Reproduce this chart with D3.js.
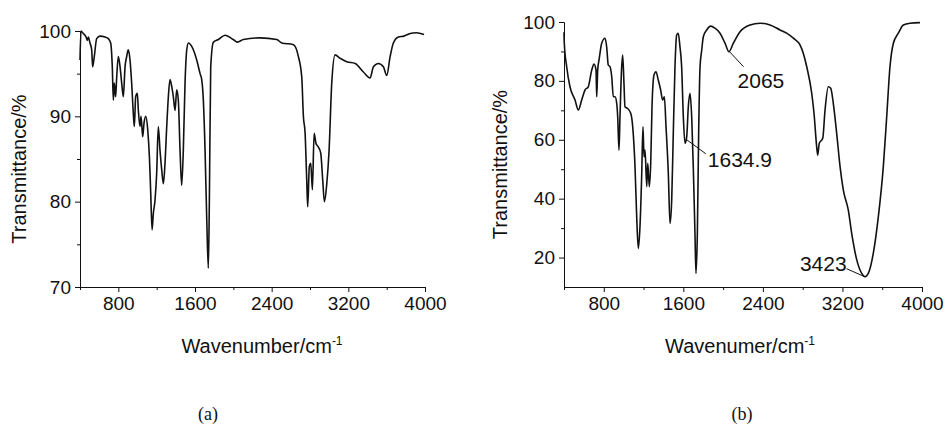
<!DOCTYPE html>
<html>
<head>
<meta charset="utf-8">
<script src="https://cdn.jsdelivr.net/npm/d3@7"></script>
<style>
    body { margin: 0; background: #fff; }
    svg { display: block; }
    .axis text { font-family: "Liberation Sans", Arial, sans-serif; font-size: 19px; fill: #111; }
    .axis path, .axis line { stroke: #111; stroke-width: 1; }
    .title { font-family: "Liberation Sans", Arial, sans-serif; font-size: 20px; fill: #111; }
    .note { font-family: "Liberation Sans", Arial, sans-serif; font-size: 21px; fill: #111; }
    .panel-label { font-family: "Liberation Serif", "Times New Roman", serif; font-size: 18px; fill: #111; }
</style>
</head>
<body>
<div id="chart"></div>
<script>
// spectrum (a)
const wnA = [400, 410, 435, 463, 476, 487, 504, 522, 532, 549, 574, 609, 661, 696, 720, 737, 748, 758, 772, 783,
    800, 818, 835, 852, 870, 887, 904, 922, 939, 956, 967, 981, 998, 1009, 1026, 1037, 1054, 1068, 1086, 1107,
    1124, 1138, 1152, 1165, 1183, 1200, 1217, 1235, 1253, 1270, 1287, 1305, 1322, 1339, 1357, 1374, 1392, 1409, 1426, 1444,
    1461, 1478, 1496, 1514, 1531, 1566, 1618, 1653, 1670, 1687, 1705, 1722, 1739, 1750, 1764, 1792, 1844, 1914, 2000, 2042,
    2105, 2279, 2453, 2505, 2627, 2679, 2714, 2731, 2749, 2766, 2776, 2793, 2808, 2825, 2843, 2863, 2888, 2912, 2933, 2950,
    2975, 2999, 3027, 3062, 3114, 3184, 3271, 3357, 3427, 3462, 3514, 3566, 3601, 3636, 3670, 3723, 3780, 3845, 3910, 3990];
const tA = [96.6, 100, 99.7, 99.3, 98.9, 99.3, 98.6, 97.8, 95.8, 97.0, 99.1, 99.4, 99.3, 99.1, 98.6, 95.8, 91.9, 93.9, 92.3, 94.6,
    97.0, 95.8, 93.9, 92.3, 95.8, 97.0, 97.8, 96.6, 93.9, 90.4, 88.8, 92.3, 92.7, 90.7, 88.8, 90.0, 87.6, 89.2, 90.0, 88.4,
    85.3, 81.0, 76.7, 78.6, 80.2, 83.3, 88.8, 86.0, 83.7, 82.1, 84.5, 88.8, 92.3, 94.3, 93.5, 92.3, 90.7, 93.1, 91.9, 86.0,
    81.9, 86.0, 93.9, 97.8, 98.6, 98.2, 96.6, 95.0, 94.3, 91.9, 86.0, 78.2, 72.2, 80.2, 95.8, 98.7, 99.0, 99.5, 99.0, 98.7,
    99.0, 99.2, 99.0, 98.6, 98.4, 97.0, 94.6, 90.0, 88.0, 82.5, 79.4, 84.1, 84.5, 81.4, 88.0, 86.8, 86.4, 85.7, 82.5, 80.0,
    82.1, 86.0, 93.9, 97.2, 96.8, 96.4, 96.2, 95.2, 94.5, 95.8, 96.2, 95.8, 94.8, 97.0, 98.6, 99.3, 99.4, 99.7, 99.8, 99.6];

// spectrum (b)
const wnB = [400, 403, 427, 460, 511, 544, 578, 611, 644, 679, 702, 722, 729, 739, 755, 779, 812, 829, 845, 863,
    880, 896, 913, 930, 940, 953, 963, 980, 990, 1003, 1013, 1037, 1071, 1091, 1114, 1131, 1147, 1164, 1181, 1194,
    1205, 1215, 1232, 1242, 1258, 1272, 1285, 1305, 1325, 1348, 1372, 1392, 1409, 1426, 1449, 1466, 1483, 1499, 1516, 1533,
    1549, 1566, 1583, 1600, 1617, 1634, 1650, 1667, 1684, 1700, 1717, 1727, 1741, 1754, 1768, 1785, 1801, 1835, 1875, 1918,
    1969, 2019, 2059, 2103, 2170, 2270, 2371, 2472, 2572, 2639, 2706, 2773, 2806, 2841, 2891, 2914, 2941, 2951, 2967, 3002,
    3025, 3058, 3082, 3108, 3142, 3176, 3209, 3259, 3293, 3344, 3394, 3427, 3460, 3510, 3561, 3611, 3645, 3678, 3712, 3762,
    3812, 3879, 3980];
const tB = [96.5, 92.8, 84.8, 78.0, 73.5, 70.1, 73.5, 76.9, 78.0, 83.7, 85.7, 83.7, 74.6, 83.7, 87.7, 92.8, 94.5, 91.6, 85.4, 84.8,
    81.4, 74.6, 74.6, 72.4, 67.8, 56.5, 67.8, 84.8, 88.8, 79.2, 71.2, 70.7, 69.0, 64.4, 50.9, 33.9, 23.1, 30.5, 47.5, 64.4,
    54.2, 56.5, 44.1, 52.0, 44.1, 52.0, 71.2, 82.0, 83.1, 80.3, 76.9, 73.5, 74.6, 64.4, 48.6, 31.6, 39.5, 62.2, 84.8, 95.6,
    96.2, 91.6, 84.8, 67.8, 58.8, 61.0, 71.2, 75.8, 67.8, 50.9, 28.2, 14.6, 28.2, 62.2, 84.8, 90.5, 95.0, 97.3, 98.6, 97.9,
    96.2, 92.8, 89.9, 92.8, 96.7, 99.0, 99.6, 99.0, 97.3, 96.2, 94.5, 92.2, 89.4, 84.8, 75.8, 69.0, 57.6, 54.8, 58.8, 60.5,
    70.1, 78.0, 77.5, 72.4, 62.2, 50.9, 42.9, 36.1, 28.2, 19.2, 14.6, 13.5, 14.6, 21.4, 33.9, 50.9, 67.8, 84.8, 92.8, 96.2,
    99.0, 99.6, 99.8];

// ticks
const xMajor = [800, 1600, 2400, 3200, 4000];
const xMinor = [400, 1200, 2000, 2800, 3600];
const yMajorA = [70, 80, 90, 100];
const yMinorA = [75, 85, 95];
const yMajorB = [20, 40, 60, 80, 100];
const yMinorB = [30, 50, 70, 90];

// peak labels on (b)
const noteText = ["2065", "1634.9", "3423"];
const noteWn = [2065, 1634.9, 3423];
const noteT = [89.9, 60.0, 13.5];

const svg = d3.select("#chart").append("svg")
    .attr("width", 946)
    .attr("height", 429);

svg.append("rect").attr("width", 946).attr("height", 429).attr("fill", "#fff");

function drawPanel(p) {
    const x = d3.scaleLinear().domain([400, 4000]).range([p.left, p.right]);
    const y = d3.scaleLinear().domain(p.yDomain).range([p.bottom, p.top]);
    const g = svg.append("g");

    // minor ticks first, no labels
    g.append("g")
        .attr("class", "axis")
        .attr("transform", `translate(0,${p.bottom})`)
        .call(d3.axisBottom(x).tickValues(xMinor).tickSize(3).tickSizeOuter(0).tickFormat(""));
    g.append("g")
        .attr("class", "axis")
        .attr("transform", `translate(${p.left},0)`)
        .call(d3.axisLeft(y).tickValues(p.yMinor).tickSize(3).tickSizeOuter(0).tickFormat(""));

    g.append("g")
        .attr("class", "axis")
        .attr("transform", `translate(0,${p.bottom})`)
        .call(d3.axisBottom(x).tickValues(xMajor).tickSize(5).tickSizeOuter(0).tickPadding(5).tickFormat(d3.format("d")));
    g.append("g")
        .attr("class", "axis")
        .attr("transform", `translate(${p.left},0)`)
        .call(d3.axisLeft(y).tickValues(p.yMajor).tickSize(5).tickSizeOuter(0).tickPadding(4).tickFormat(d3.format("d")));

    const line = d3.line()
        .x(d => x(d[0]))
        .y(d => y(d[1]))
        .curve(d3.curveMonotoneX);

    g.append("path")
        .datum(d3.zip(p.wn, p.t))
        .attr("fill", "none")
        .attr("stroke", "#111")
        .attr("stroke-width", 1.6)
        .attr("stroke-linejoin", "round")
        .attr("d", line);

    // axis titles
    g.append("text")
        .attr("class", "title")
        .attr("transform", `translate(${p.yTitleX},${(p.top + p.bottom) / 2 + 10}) rotate(-90)`)
        .attr("text-anchor", "middle")
        .text("Transmittance/%");

    const xt = g.append("text")
        .attr("class", "title")
        .attr("x", p.xTitleX)
        .attr("y", 353)
        .attr("text-anchor", "middle");
    xt.append("tspan").text(p.xTitle);
    xt.append("tspan").attr("dy", -8).attr("font-size", 12).text("-1");

    g.append("text")
        .attr("class", "panel-label")
        .attr("x", p.labelX)
        .attr("y", 420)
        .attr("text-anchor", "middle")
        .text(p.label);

    return { x, y, g };
}

drawPanel({
    left: 80, right: 425, top: 31, bottom: 287,
    yDomain: [70, 100], yMajor: yMajorA, yMinor: yMinorA,
    wn: wnA, t: tA,
    yTitleX: 26, xTitleX: 262, xTitle: "Wavenumber/cm", labelX: 208, label: "(a)"
});

const b = drawPanel({
    left: 564, right: 922, top: 22, bottom: 287,
    yDomain: [10, 100], yMajor: yMajorB, yMinor: yMinorB,
    wn: wnB, t: tB,
    yTitleX: 507, xTitleX: 740, xTitle: "Wavenumer/cm", labelX: 742, label: "(b)"
});

// leader lines + numbers, offsets per label
const noteOffsets = [
    { lx: 14, ly: 15, tx: 8, ty: 36, anchor: "start" },
    { lx: 19, ly: 14, tx: 21, ty: 27, anchor: "start" },
    { lx: -18, ly: -8, tx: -18, ty: -6, anchor: "end" }
];
noteText.forEach((txt, i) => {
    const px = b.x(noteWn[i]), py = b.y(noteT[i]), o = noteOffsets[i];
    b.g.append("line")
        .attr("x1", px).attr("y1", py)
        .attr("x2", px + o.lx).attr("y2", py + o.ly)
        .attr("stroke", "#111").attr("stroke-width", 1);
    b.g.append("text")
        .attr("class", "note")
        .attr("x", px + o.tx).attr("y", py + o.ty)
        .attr("text-anchor", o.anchor)
        .text(txt);
});
</script>
</body>
</html>
